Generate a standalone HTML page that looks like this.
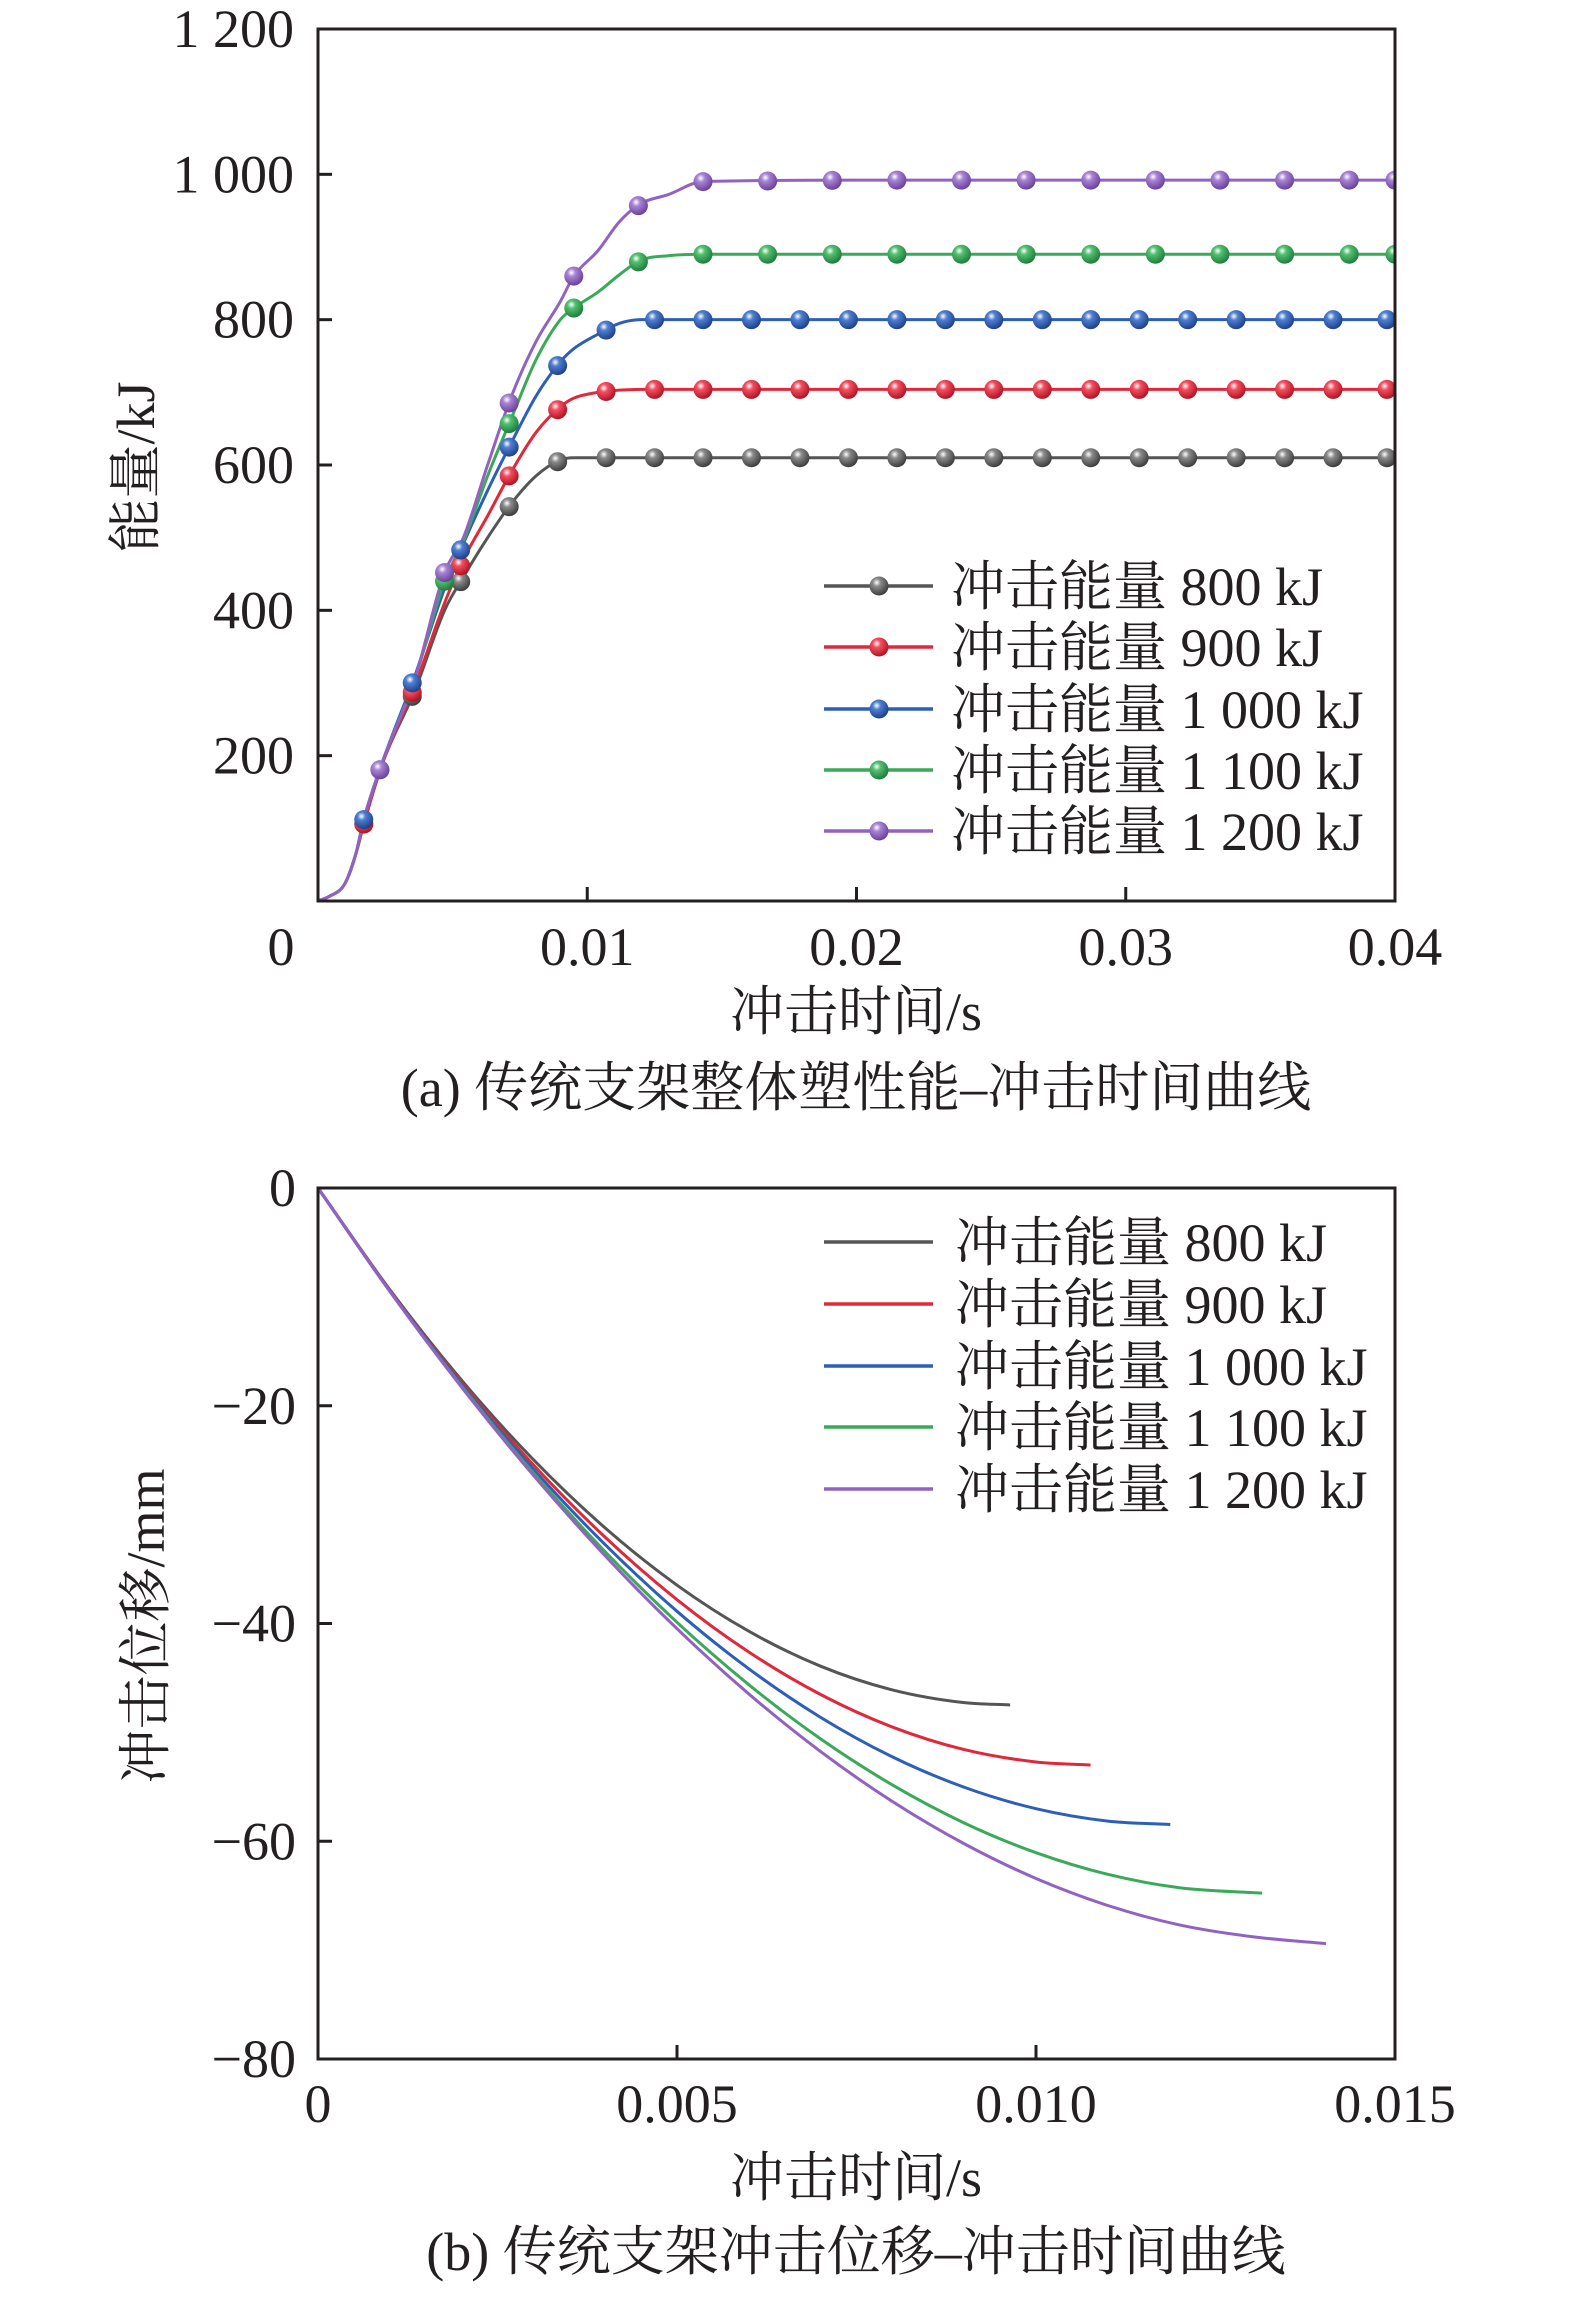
<!DOCTYPE html>
<html><head><meta charset="utf-8"><style>
html,body{margin:0;padding:0;background:#fff;}
svg{display:block;}
text{font-family:"Liberation Serif","Noto Serif CJK SC",serif;fill:#231f20;}
</style></head>
<body>
<svg id="svg" width="1575" height="2297" viewBox="0 0 1575 2297" xmlns="http://www.w3.org/2000/svg">
<defs>
<radialGradient id="g-gray" cx="0.38" cy="0.32" r="0.7"><stop offset="0" stop-color="#fff"/><stop offset="0.3" stop-color="#8a8a8a"/><stop offset="1" stop-color="#3a3a3a"/></radialGradient>
<radialGradient id="g-red" cx="0.38" cy="0.32" r="0.7"><stop offset="0" stop-color="#fff"/><stop offset="0.3" stop-color="#f05060"/><stop offset="1" stop-color="#b01020"/></radialGradient>
<radialGradient id="g-blue" cx="0.38" cy="0.32" r="0.7"><stop offset="0" stop-color="#fff"/><stop offset="0.3" stop-color="#4f7fd0"/><stop offset="1" stop-color="#1c3f8a"/></radialGradient>
<radialGradient id="g-green" cx="0.38" cy="0.32" r="0.7"><stop offset="0" stop-color="#fff"/><stop offset="0.3" stop-color="#52c070"/><stop offset="1" stop-color="#1e7a3a"/></radialGradient>
<radialGradient id="g-purple" cx="0.38" cy="0.32" r="0.7"><stop offset="0" stop-color="#fff"/><stop offset="0.3" stop-color="#a884d4"/><stop offset="1" stop-color="#6a3e9a"/></radialGradient>
</defs>
<g id="chartA"></g>
<g id="chartB"></g>
</svg>
<script>
// ---------- Chart (a) data ----------
const seriesNames = ["冲击能量 800 kJ","冲击能量 900 kJ","冲击能量 1 000 kJ","冲击能量 1 100 kJ","冲击能量 1 200 kJ"];
const energyTime = [0,0.0004,0.001,0.0014,0.0017,0.0024,0.0036,0.0047,0.0054,0.0063,0.0072,0.0081,0.009,0.0095,0.0104,0.0112,0.012,0.013,0.0143,0.02,0.04];
const energy800  = [0,6,24,64,106,190,290,400,446,500,548,585,607,610,610,610,610,610,610,610,610];
const energy900  = [0,6,24,64,106,190,296,410,470,530,592,645,680,692,700,703,704,704,704,704,704];
const energy1000 = [0,6,24,64,112,192,310,430,492,565,632,695,742,760,780,795,800,800,800,800,800];
const energy1100 = [0,6,24,64,112,192,306,440,495,585,666,745,800,816,838,862,882,888,890,890,890];
const energy1200 = [0,6,24,64,112,192,306,452,500,600,696,770,825,860,895,935,960,972,990,992,992];
const markerTimesA = [0.0017,0.0035,0.0053,0.0071,0.0089,0.0107,0.0125,0.0143,0.0161,0.0179,0.0197,0.0215,0.0233,0.0251,0.0269,0.0287,0.0305,0.0323,0.0341,0.0359,0.0377,0.0397];
const markerTimesB = [0.0023,0.0047,0.0071,0.0095,0.0119,0.0143,0.0167,0.0191,0.0215,0.0239,0.0263,0.0287,0.0311,0.0335,0.0359,0.0383,0.04];
const energyTicksY = [200,400,600,800,1000,1200];
const energyTickLabelsY = ["200","400","600","800","1 000","1 200"];
const energyTicksX = [0,0.01,0.02,0.03,0.04];
const energyTickLabelsX = ["0","0.01","0.02","0.03","0.04"];

// ---------- Chart (b) data ----------
const dispTime800  = [0,0.001,0.002,0.003,0.004,0.005,0.006,0.007,0.008,0.009,0.00964];
const disp800      = [0,-9.34,-17.66,-24.95,-31.23,-36.48,-40.71,-43.92,-46.1,-47.27,-47.48];
const dispTime900  = [0,0.001,0.002,0.003,0.004,0.005,0.006,0.007,0.008,0.009,0.010,0.01076];
const disp900      = [0,-9.39,-17.87,-25.43,-32.08,-37.81,-42.62,-46.52,-49.51,-51.58,-52.72,-53.0];
const dispTime1000 = [0,0.001,0.002,0.003,0.004,0.005,0.006,0.007,0.008,0.009,0.010,0.011,0.01187];
const disp1000     = [0,-9.44,-18.04,-25.82,-32.76,-38.88,-44.16,-48.62,-52.25,-55.04,-57.01,-58.15,-58.46];
const dispTime1100 = [0,0.001,0.002,0.003,0.004,0.005,0.006,0.007,0.008,0.009,0.010,0.011,0.012,0.01315];
const disp1100     = [0,-9.48,-18.2,-26.18,-33.41,-39.89,-45.62,-50.6,-54.83,-58.32,-61.05,-63.04,-64.27,-64.77];
const dispTime1200 = [0,0.001,0.002,0.003,0.004,0.005,0.006,0.007,0.008,0.009,0.010,0.011,0.012,0.013,0.01404];
const disp1200     = [0,-9.5,-18.3,-26.39,-33.79,-40.48,-46.47,-51.76,-56.35,-60.23,-63.42,-65.9,-67.69,-68.76,-69.4];
const dispTicksY = [0,-20,-40,-60,-80];
const dispTickLabelsY = ["0","\u221220","\u221240","\u221260","\u221280"];
const dispTicksX = [0,0.005,0.010,0.015];
const dispTickLabelsX = ["0","0.005","0.010","0.015"];

const colors = ["#555555","#e0283a","#2c5fb8","#3aa95a","#9262c2"];
const grads = ["g-gray","g-red","g-blue","g-green","g-purple"];
const NS = "http://www.w3.org/2000/svg";
const slugs = ["800kj","900kj","1000kj","1100kj","1200kj"];
const FS = 54;

function mk(parent, tag, attrs, txt){
  const e = document.createElementNS(NS, tag);
  for (const k in attrs) e.setAttribute(k, attrs[k]);
  if (txt !== undefined) e.textContent = txt;
  parent.appendChild(e);
  return e;
}
function smoothPath(pts){
  const n = pts.length; if (n<2) return "";
  const d=[], m=[];
  for (let i=0;i<n-1;i++) d.push((pts[i+1][1]-pts[i][1])/(pts[i+1][0]-pts[i][0]));
  m[0]=d[0]; m[n-1]=d[n-2];
  for (let i=1;i<n-1;i++){ m[i] = (d[i-1]*d[i]<=0)?0:(d[i-1]+d[i])/2; }
  for (let i=0;i<n-1;i++){ if (d[i]===0){m[i]=0;m[i+1]=0;continue;}
    const a=m[i]/d[i], b=m[i+1]/d[i], s=a*a+b*b; if (s>9){const t=3/Math.sqrt(s); m[i]=t*a*d[i]; m[i+1]=t*b*d[i];} }
  let p = "M"+pts[0][0].toFixed(2)+","+pts[0][1].toFixed(2);
  for (let i=0;i<n-1;i++){
    const h=(pts[i+1][0]-pts[i][0])/3;
    p += " C"+(pts[i][0]+h).toFixed(2)+","+(pts[i][1]+m[i]*h).toFixed(2)+" "+(pts[i+1][0]-h).toFixed(2)+","+(pts[i+1][1]-m[i+1]*h).toFixed(2)+" "+pts[i+1][0].toFixed(2)+","+pts[i+1][1].toFixed(2);
  }
  return p;
}
function interp(xs, ys, x){
  for (let i=0;i<xs.length-1;i++) if (x>=xs[i] && x<=xs[i+1]) return ys[i]+(ys[i+1]-ys[i])*(x-xs[i])/(xs[i+1]-xs[i]);
  return ys[ys.length-1];
}

// ---------- Chart (a) ----------
(function(){
  const g = document.getElementById("chartA");
  const L=318,R=1395,T=29,B=901;
  const xS = t => L + (t-0)/0.04*(R-L);
  const yS = v => B - v/1200*(B-T);
  const clip = mk(g,"clipPath",{id:"clipA"}); mk(clip,"rect",{x:L,y:T-12,width:R-L,height:B-T+12});
  const series=[energy800,energy900,energy1000,energy1100,energy1200];
  series.forEach((vals,i)=>{
    const pts = energyTime.map((t,j)=>[xS(t),yS(vals[j])]);
    const p = mk(g,"path",{d:smoothPath(pts),fill:"none",stroke:colors[i],"stroke-width":3,"clip-path":"url(#clipA)"});
    
    
  });
  series.forEach((vals,i)=>{
    const mt = i<3 ? markerTimesA : markerTimesB;
    const mg = mk(g,"g",{"clip-path":"url(#clipA)"});
    
    
    mt.forEach(t=>{
      const c = mk(mg,"circle",{cx:xS(t),cy:yS(interp(energyTime,vals,t)),r:9.5,fill:"url(#"+grads[i]+")"});
      
      
    });
  });
  const frame = mk(g,"rect",{x:L,y:T,width:R-L,height:B-T,fill:"none",stroke:"#231f20","stroke-width":3});
  
  
  energyTicksY.forEach((v,i)=>{
    if (v<1200) mk(g,"line",{x1:L,x2:L+14,y1:yS(v),y2:yS(v),stroke:"#231f20","stroke-width":3});
    const t = mk(g,"text",{x:294,y:yS(v)+18,"text-anchor":"end","font-size":FS},energyTickLabelsY[i]);
    
    
  });
  energyTicksX.forEach((v,i)=>{
    if (v>0 && v<0.04) mk(g,"line",{x1:xS(v),x2:xS(v),y1:B,y2:B-14,stroke:"#231f20","stroke-width":3});
    const x = i===0 ? 281 : xS(v);
    const t = mk(g,"text",{x:x,y:965,"text-anchor":"middle","font-size":FS},energyTickLabelsX[i]);
    
    
  });
  const xt = mk(g,"text",{x:856,y:1030,"text-anchor":"middle","font-size":FS},"冲击时间/s");
  
  
  const yt = mk(g,"text",{x:0,y:0,"text-anchor":"middle","font-size":FS,transform:"translate(154,467) rotate(-90)"},"能量/kJ");
  
  
  const cap = mk(g,"text",{x:856,y:1106,"text-anchor":"middle","font-size":FS},"(a) 传统支架整体塑性能–冲击时间曲线");
  
  
  const rows=[586,647,709,770,831];
  seriesNames.forEach((nm,i)=>{
    const lg = mk(g,"g",{});
    
    
    mk(lg,"line",{x1:824,x2:933,y1:rows[i],y2:rows[i],stroke:colors[i],"stroke-width":3.5});
    mk(lg,"circle",{cx:879,cy:rows[i],r:9.5,fill:"url(#"+grads[i]+")"});
    mk(lg,"text",{x:951,y:rows[i]+19,"font-size":FS},nm);
  });
})();

// ---------- Chart (b) ----------
(function(){
  const g = document.getElementById("chartB");
  const L=318,R=1395,T=1188,B=2059;
  const xS = t => L + t/0.015*(R-L);
  const yS = v => T + (-v)/80*(B-T);
  const times=[dispTime800,dispTime900,dispTime1000,dispTime1100,dispTime1200];
  const vals=[disp800,disp900,disp1000,disp1100,disp1200];
  vals.forEach((vs,i)=>{
    const pts = times[i].map((t,j)=>[xS(t),yS(vs[j])]);
    const p = mk(g,"path",{d:smoothPath(pts),fill:"none",stroke:colors[i],"stroke-width":3});
    
    
  });
  const frame = mk(g,"rect",{x:L,y:T,width:R-L,height:B-T,fill:"none",stroke:"#231f20","stroke-width":3});
  
  
  dispTicksY.forEach((v,i)=>{
    if (v<0 && v>-80) mk(g,"line",{x1:L,x2:L+14,y1:yS(v),y2:yS(v),stroke:"#231f20","stroke-width":3});
    const t = mk(g,"text",{x:296,y:yS(v)+18,"text-anchor":"end","font-size":FS},dispTickLabelsY[i]);
    
    
  });
  dispTicksX.forEach((v,i)=>{
    if (v>0 && v<0.015) mk(g,"line",{x1:xS(v),x2:xS(v),y1:B,y2:B-14,stroke:"#231f20","stroke-width":3});
    const t = mk(g,"text",{x:xS(v),y:2122,"text-anchor":"middle","font-size":FS},dispTickLabelsX[i]);
    
    
  });
  const xt = mk(g,"text",{x:856,y:2196,"text-anchor":"middle","font-size":FS},"冲击时间/s");
  
  
  const yt = mk(g,"text",{x:0,y:0,"text-anchor":"middle","font-size":FS,transform:"translate(164,1626) rotate(-90)"},"冲击位移/mm");
  
  
  const cap = mk(g,"text",{x:856,y:2270,"text-anchor":"middle","font-size":FS},"(b) 传统支架冲击位移–冲击时间曲线");
  
  
  const rows=[1242,1304,1366,1427,1489];
  seriesNames.forEach((nm,i)=>{
    const lg = mk(g,"g",{});
    
    
    mk(lg,"line",{x1:824,x2:933,y1:rows[i],y2:rows[i],stroke:colors[i],"stroke-width":3.5});
    mk(lg,"text",{x:955,y:rows[i]+19,"font-size":FS},nm);
  });
})();
</script>
</body></html>
